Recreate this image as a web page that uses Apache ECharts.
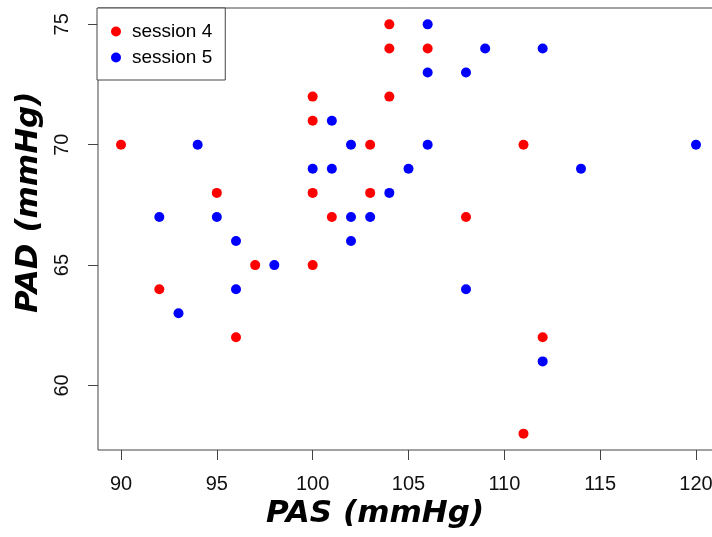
<!DOCTYPE html>
<html>
<head>
<meta charset="utf-8">
<script src="https://cdn.jsdelivr.net/npm/echarts@6/dist/echarts.min.js"></script>
<style>
html,body{margin:0;padding:0;background:#fff;}
#chart{width:712px;height:537px;}
</style>
</head>
<body>
<div id="chart"></div>
<script>
const seriesNames = ['session 4', 'session 5'];
const session4PAS = [104, 104, 106, 100, 104, 100, 90, 103, 111, 95, 100, 103, 101, 108, 97, 100, 92, 96, 112, 111];
const session4PAD = [75, 74, 74, 72, 72, 71, 70, 70, 70, 68, 68, 68, 67, 67, 65, 65, 64, 62, 62, 58];
const session5PAS = [106, 109, 112, 106, 108, 101, 94, 102, 106, 120, 100, 101, 105, 114, 104, 92, 95, 102, 103, 96, 102, 98, 96, 108, 93, 112];
const session5PAD = [75, 74, 74, 73, 73, 71, 70, 70, 70, 70, 69, 69, 69, 69, 68, 67, 67, 67, 67, 66, 66, 65, 64, 64, 63, 61];
const xTicks = [90, 95, 100, 105, 110, 115, 120];
const yTicks = [60, 65, 70, 75];
const xTitle = 'PAS (mmHg)';
const yTitle = 'PAD (mmHg)';

const pairs = (xs, ys) => xs.map((x, i) => [x, ys[i]]);
const chart = echarts.init(document.getElementById('chart'), null, {renderer: 'canvas'});
const axisColor = '#444';
const labelFont = 'Liberation Sans, Arial, sans-serif';
const titleFont = 'italic bold 31px "DejaVu Sans", sans-serif';

chart.setOption({
  animation: false,
  backgroundColor: '#fff',
  grid: {left: 98, top: 8, width: 621, height: 442, outerBoundsMode: 'none', containLabel: false, show: true, borderColor: axisColor, borderWidth: 1, backgroundColor: 'transparent'},
  xAxis: {
    type: 'value', min: 88.8, max: 121.2,
    splitLine: {show: false},
    axisLine: {show: false},
    axisTick: {show: true, inside: false, length: 10, lineStyle: {color: axisColor, width: 1}, customValues: xTicks},
    axisLabel: {customValues: xTicks, margin: 24, fontSize: 20, color: '#111', fontFamily: labelFont}
  },
  yAxis: {
    type: 'value', min: 57.32, max: 75.68,
    splitLine: {show: false},
    axisLine: {show: false},
    axisTick: {show: true, inside: false, length: 10, lineStyle: {color: axisColor, width: 1}, customValues: yTicks},
    axisLabel: {customValues: yTicks, rotate: 90, margin: 26, fontSize: 20, color: '#111', fontFamily: labelFont}
  },
  legend: {
    orient: 'vertical', left: 97, top: 8,
    data: seriesNames,
    icon: 'circle', itemWidth: 22, itemHeight: 10, itemGap: 7,
    padding: [14, 13, 13, 14],
    borderColor: axisColor, borderWidth: 1, backgroundColor: '#fff',
    textStyle: {fontSize: 19, lineHeight: 19, color: '#000', fontFamily: labelFont}
  },
  graphic: [
    {type: 'text', left: 266, top: 498, style: {text: xTitle, font: titleFont, fill: '#000'}},
    {type: 'text', rotation: Math.PI / 2, x: 13, y: 313, style: {text: yTitle, font: titleFont, fill: '#000'}}
  ],
  series: [
    {name: seriesNames[0], type: 'scatter', symbol: 'circle', symbolSize: 10, itemStyle: {color: '#ff0000', opacity: 1}, data: pairs(session4PAS, session4PAD), z: 3},
    {name: seriesNames[1], type: 'scatter', symbol: 'circle', symbolSize: 10, itemStyle: {color: '#0000ff', opacity: 1}, data: pairs(session5PAS, session5PAD), z: 2}
  ]
});
</script>
</body>
</html>
